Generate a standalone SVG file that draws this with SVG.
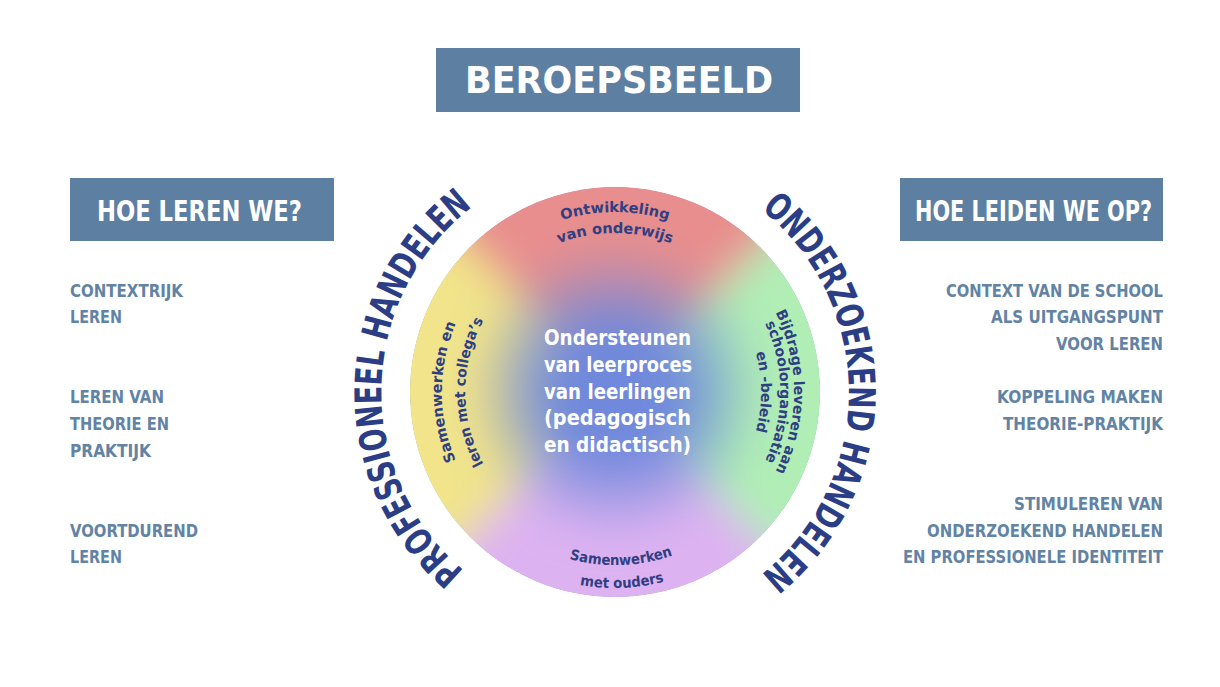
<svg xmlns="http://www.w3.org/2000/svg" width="1220" height="687" viewBox="0 0 1220 687">
<style>
.box{fill:#5D80A2}
.hd{font-family:"DejaVu Sans Condensed","DejaVu Sans",sans-serif;font-weight:bold;fill:#ffffff}
.li{font-family:"DejaVu Sans Condensed","DejaVu Sans",sans-serif;font-weight:bold;fill:#6283A4;font-size:18.5px}
.arc{font-family:"DejaVu Sans Condensed","DejaVu Sans",sans-serif;font-weight:bold;fill:#2B3E85;font-size:37px}
.lab{font-family:"DejaVu Sans Condensed","DejaVu Sans",sans-serif;font-weight:bold;fill:#2F3F82;font-size:14.5px}
.ctr{font-family:"DejaVu Sans Condensed","DejaVu Sans",sans-serif;font-weight:bold;fill:#ffffff;font-size:22px}
</style>
<defs>
<clipPath id="cc"><circle cx="615" cy="392" r="205"/></clipPath>
<filter id="bl" x="-30%" y="-30%" width="160%" height="160%"><feGaussianBlur stdDeviation="20"/></filter>
<radialGradient id="gR" gradientUnits="userSpaceOnUse" cx="615" cy="392" r="205"><stop offset="0.3" stop-color="#E88E8E" stop-opacity="0"/><stop offset="0.72" stop-color="#E88E8E" stop-opacity="1"/></radialGradient>
<radialGradient id="gG" gradientUnits="userSpaceOnUse" cx="615" cy="392" r="205"><stop offset="0.3" stop-color="#B0EEB6" stop-opacity="0"/><stop offset="0.72" stop-color="#B0EEB6" stop-opacity="1"/></radialGradient>
<radialGradient id="gP" gradientUnits="userSpaceOnUse" cx="615" cy="392" r="205"><stop offset="0.3" stop-color="#DDB2F1" stop-opacity="0"/><stop offset="0.72" stop-color="#DDB2F1" stop-opacity="1"/></radialGradient>
<radialGradient id="gY" gradientUnits="userSpaceOnUse" cx="615" cy="392" r="205"><stop offset="0.3" stop-color="#F1E48A" stop-opacity="0"/><stop offset="0.72" stop-color="#F1E48A" stop-opacity="1"/></radialGradient>
<path id="pL" d="M574.4,622.4 A234,234 0 0 1 574.4,161.6"/>
<path id="pR" d="M655.6,161.6 A234,234 0 0 1 655.6,622.4"/>
<path id="pT1" d="M445.9,330.4 A180,180 0 0 1 784.1,330.4"/>
<path id="pT2" d="M465.6,337.6 A159,159 0 0 1 764.4,337.6"/>
<path id="pB1" d="M452.4,451.2 A173,173 0 0 0 777.6,451.2"/>
<path id="pB2" d="M430.8,459 A196,196 0 0 0 799.2,459"/>
<path id="pL1" d="M584.9,562.4 A173,173 0 0 1 584.9,221.6"/>
<path id="pL2" d="M589,539.7 A150,150 0 0 1 589,244.3"/>
<path id="pR1" d="M646.1,215.7 A179,179 0 0 1 646.1,568.3"/>
<path id="pR2" d="M643.2,231.5 A162.5,162.5 0 0 1 643.2,552.5"/>
<path id="pR3" d="M640.4,248.2 A146,146 0 0 1 640.4,535.8"/>
</defs>
<rect width="1220" height="687" fill="#ffffff"/>

<g id="title">
<rect class="box" x="436" y="48" width="364" height="64"/>
<text class="hd" x="465" y="93" font-size="38" textLength="308" lengthAdjust="spacingAndGlyphs">BEROEPSBEELD</text>
</g>

<g id="header-left">
<rect class="box" x="70" y="178" width="264" height="63"/>
<text class="hd" x="97" y="221" font-size="29" textLength="205" lengthAdjust="spacingAndGlyphs">HOE LEREN WE?</text>
</g>

<g id="header-right">
<rect class="box" x="900" y="178" width="263" height="63"/>
<text class="hd" x="915" y="221" font-size="29" textLength="237" lengthAdjust="spacingAndGlyphs">HOE LEIDEN WE OP?</text>
</g>

<g id="list-left">
<text class="li" x="70" y="297" textLength="113" lengthAdjust="spacingAndGlyphs">CONTEXTRIJK</text>
<text class="li" x="70" y="323" textLength="52" lengthAdjust="spacingAndGlyphs">LEREN</text>
<text class="li" x="70" y="403" textLength="94" lengthAdjust="spacingAndGlyphs">LEREN VAN</text>
<text class="li" x="70" y="430" textLength="99" lengthAdjust="spacingAndGlyphs">THEORIE EN</text>
<text class="li" x="70" y="457" textLength="81" lengthAdjust="spacingAndGlyphs">PRAKTIJK</text>
<text class="li" x="70" y="537" textLength="128" lengthAdjust="spacingAndGlyphs">VOORTDUREND</text>
<text class="li" x="70" y="563" textLength="52" lengthAdjust="spacingAndGlyphs">LEREN</text>
</g>

<g id="list-right">
<text class="li" x="946" y="297" textLength="217" lengthAdjust="spacingAndGlyphs">CONTEXT VAN DE SCHOOL</text>
<text class="li" x="991" y="323" textLength="172" lengthAdjust="spacingAndGlyphs">ALS UITGANGSPUNT</text>
<text class="li" x="1056" y="350" textLength="107" lengthAdjust="spacingAndGlyphs">VOOR LEREN</text>
<text class="li" x="997" y="403" textLength="166" lengthAdjust="spacingAndGlyphs">KOPPELING MAKEN</text>
<text class="li" x="1003" y="430" textLength="160" lengthAdjust="spacingAndGlyphs">THEORIE-PRAKTIJK</text>
<text class="li" x="1014" y="510" textLength="149" lengthAdjust="spacingAndGlyphs">STIMULEREN VAN</text>
<text class="li" x="927" y="537" textLength="236" lengthAdjust="spacingAndGlyphs">ONDERZOEKEND HANDELEN</text>
<text class="li" x="903" y="563" textLength="260" lengthAdjust="spacingAndGlyphs">EN PROFESSIONELE IDENTITEIT</text>
</g>

<g id="wheel">
<g clip-path="url(#cc)">
<circle cx="615" cy="392" r="205" fill="#7089DC"/>
<g filter="url(#bl)">
<polygon points="615,392 215,-8 1015,-8" fill="url(#gR)"/>
<polygon points="615,392 1015,-8 1015,792" fill="url(#gG)"/>
<polygon points="615,392 1015,792 215,792" fill="url(#gP)"/>
<polygon points="615,392 215,792 215,-8" fill="url(#gY)"/>
</g>
</g>
</g>

<g id="center">
<text class="ctr" x="544" y="345" textLength="147" lengthAdjust="spacingAndGlyphs">Ondersteunen</text>
<text class="ctr" x="544" y="372" textLength="148" lengthAdjust="spacingAndGlyphs">van leerproces</text>
<text class="ctr" x="544" y="399" textLength="147" lengthAdjust="spacingAndGlyphs">van leerlingen</text>
<text class="ctr" x="544" y="425" textLength="147" lengthAdjust="spacingAndGlyphs">(pedagogisch</text>
<text class="ctr" x="544" y="452" textLength="147" lengthAdjust="spacingAndGlyphs">en  didactisch)</text>
</g>

<g id="label-top">
<text class="lab" text-anchor="middle"><textPath href="#pT1" startOffset="50%" textLength="108" lengthAdjust="spacingAndGlyphs">Ontwikkeling</textPath></text>
<text class="lab" text-anchor="middle"><textPath href="#pT2" startOffset="50%" textLength="115" lengthAdjust="spacingAndGlyphs">van onderwijs</textPath></text>
</g>

<g id="label-bottom">
<text class="lab" text-anchor="middle"><textPath href="#pB1" startOffset="51.5%" textLength="105" lengthAdjust="spacingAndGlyphs">Samenwerken</textPath></text>
<text class="lab" text-anchor="middle"><textPath href="#pB2" startOffset="51.5%" textLength="85" lengthAdjust="spacingAndGlyphs">met ouders</textPath></text>
</g>

<g id="label-left">
<text class="lab" text-anchor="middle"><textPath href="#pL1" startOffset="50%" textLength="141" lengthAdjust="spacingAndGlyphs">Samenwerken en</textPath></text>
<text class="lab" text-anchor="middle"><textPath href="#pL2" startOffset="50%" textLength="150" lengthAdjust="spacingAndGlyphs">leren met collega’s</textPath></text>
</g>

<g id="label-right">
<text class="lab" text-anchor="middle"><textPath href="#pR1" startOffset="50%" textLength="165" lengthAdjust="spacingAndGlyphs">Bijdrage leveren aan</textPath></text>
<text class="lab" text-anchor="middle"><textPath href="#pR2" startOffset="50%" textLength="142" lengthAdjust="spacingAndGlyphs">schoolorganisatie</textPath></text>
<text class="lab" text-anchor="middle"><textPath href="#pR3" startOffset="50%" textLength="80" lengthAdjust="spacingAndGlyphs">en -beleid</textPath></text>
</g>

<g id="arc-professioneel">
<text class="arc" text-anchor="middle"><textPath href="#pL" startOffset="50.8%" textLength="417" lengthAdjust="spacingAndGlyphs">PROFESSIONEEL HANDELEN</textPath></text>
</g>

<g id="arc-onderzoekend">
<text class="arc" text-anchor="middle"><textPath href="#pR" startOffset="50%" textLength="419" lengthAdjust="spacingAndGlyphs">ONDERZOEKEND HANDELEN</textPath></text>
</g>
</svg>
